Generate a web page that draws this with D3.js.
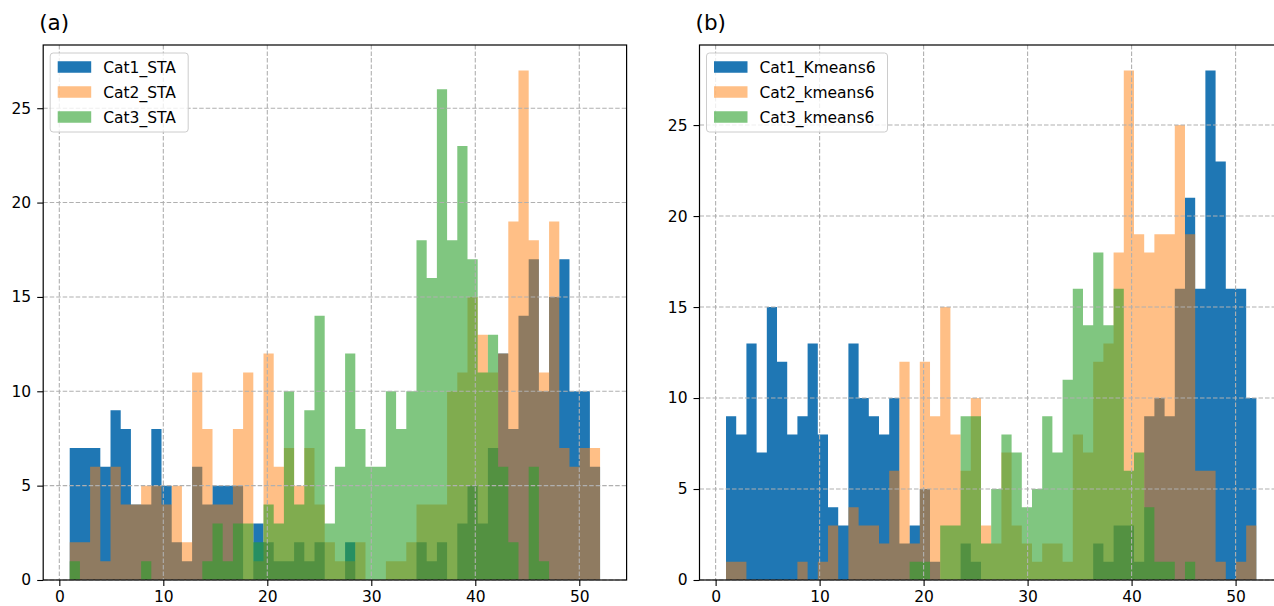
<!DOCTYPE html>
<html lang="en"><head>
<meta charset="utf-8"/>
<title>Weekly histograms</title>
<script src="https://cdn.jsdelivr.net/npm/d3@7"></script>
<style>
    body {margin: 0; width: 1274px; height: 606px; overflow: hidden; background: #fff;
        font-family: 'DejaVu Sans', sans-serif;}
    .axis text {font-size: 15.5px; fill: #000; font-family: 'DejaVu Sans', sans-serif;}
    .axis line {stroke: #000; stroke-width: 1.1;}
    .grid line {stroke: #b0b0b0; stroke-width: 1.1; stroke-dasharray: 4.5 2;}
</style>
</head>
<body>
<svg id="fig" width="1274" height="606"></svg>
<script>
    // histogram binning: values 1..52, 52 bins
    const dataMin = 1, dataMax = 52, binCount = 52;

    // panel (a) counts per bin
    const staCat1 = [7,7,7,6,9,8,4,4,8,5, 2,1,6,4,5,5,5,0,3,2, 1,1,2,1,2,0,0,2,0,0,
                     0,0,0,0,2,1,2,0,3,5, 3,7,12,8,14,17,10,15,17,10, 10,6];
    const staCat2 = [2,2,6,1,6,4,4,5,5,4, 5,2,11,8,4,4,8,11,1,12, 6,7,5,7,4,2,1,1,2,0,
                     0,1,1,2,4,4,4,10,11,15, 13,11,12,19,27,18,11,19,7,6, 7,7];
    const staCat3 = [1,0,0,0,0,0,0,1,0,0, 0,0,0,1,3,1,3,3,2,4, 3,10,4,9,14,3,6,12,8,6,
                     6,10,8,10,18,16,26,18,23,17, 11,13,6,2,0,6,1,0,0,0, 0,0];

    // panel (b) counts per bin
    const kmCat1 = [9,8,13,7,15,12,8,9,13,8, 4,3,13,10,9,8,10,2,3,5, 1,0,0,2,1,0,0,0,0,0,
                    0,0,0,0,0,0,2,1,3,3, 1,9,10,9,16,21,16,28,23,16, 16,10];
    const kmCat2 = [1,1,0,0,0,0,0,1,0,1, 3,0,4,3,3,2,6,12,2,12, 9,15,8,6,10,3,2,7,3,2,
                    1,2,2,1,8,7,12,13,18,28, 19,18,19,19,25,19,6,6,1,0, 1,3];
    const kmCat3 = [0,0,0,0,0,0,0,0,0,0, 0,0,0,0,0,0,0,0,1,1, 0,3,3,9,9,2,5,8,7,4,
                    5,9,7,11,16,14,18,14,16,6, 7,4,1,1,0,1,0,0,0,0, 0,0];

    const xTicks = [0, 10, 20, 30, 40, 50];
    const yTicks = [0, 5, 10, 15, 20, 25];
    const labelsA = ["Cat1_STA", "Cat2_STA", "Cat3_STA"];
    const labelsB = ["Cat1_Kmeans6", "Cat2_kmeans6", "Cat3_kmeans6"];

    const colors = ["#1f77b4", "#ff7f0e", "#2ca02c"];
    const alphas = [1, 0.5, 0.6];

    const panels = [
        {title: "(a)", left: 43.2, legendW: 138, names: labelsA, series: [staCat1, staCat2, staCat3]},
        {title: "(b)", left: 699.5, legendW: 181, names: labelsB, series: [kmCat1, kmCat2, kmCat3]}
    ];

    const axW = 583.4, axTop = 45, axBottom = 580;
    const binW = (dataMax - dataMin) / binCount;
    const edges = d3.range(binCount + 1).map(i => dataMin + i * binW);
    const pad = 0.05 * (dataMax - dataMin);

    const svg = d3.select("#fig");

    panels.forEach(p => {
        const x = d3.scaleLinear()
            .domain([dataMin - pad, dataMax + pad])
            .range([p.left, p.left + axW]);
        const y = d3.scaleLinear()
            .domain([0, d3.max(p.series.flat()) * 1.05])
            .range([axBottom, axTop]);

        const g = svg.append("g");

        // bars, one step area per series
        p.series.forEach((s, i) => {
            const pts = edges.map((e, j) => [e, s[Math.min(j, binCount - 1)]]);
            const area = d3.area()
                .x(d => x(d[0]))
                .y0(y(0))
                .y1(d => y(d[1]))
                .curve(d3.curveStepAfter);
            g.append("path")
                .attr("d", area(pts))
                .attr("fill", colors[i])
                .attr("fill-opacity", alphas[i]);
        });

        // grid on top of bars
        const grid = g.append("g").attr("class", "grid");
        grid.selectAll(".gx").data(xTicks).enter().append("line")
            .attr("x1", d => x(d)).attr("x2", d => x(d))
            .attr("y1", axTop).attr("y2", axBottom);
        grid.selectAll(".gy").data(yTicks).enter().append("line")
            .attr("x1", p.left).attr("x2", p.left + axW)
            .attr("y1", d => y(d)).attr("y2", d => y(d));

        // axes
        g.append("g")
            .attr("class", "axis")
            .attr("transform", `translate(0, ${axBottom})`)
            .call(d3.axisBottom(x).tickValues(xTicks).tickSize(6).tickPadding(5))
            .call(a => a.select(".domain").remove());
        g.append("g")
            .attr("class", "axis")
            .attr("transform", `translate(${p.left}, 0)`)
            .call(d3.axisLeft(y).tickValues(yTicks).tickSize(6).tickPadding(6))
            .call(a => a.select(".domain").remove());

        // spines
        g.append("rect")
            .attr("x", p.left).attr("y", axTop)
            .attr("width", axW).attr("height", axBottom - axTop)
            .attr("fill", "none").attr("stroke", "#000").attr("stroke-width", 1.2);

        // panel label
        g.append("text")
            .attr("x", p.left - 4).attr("y", 30)
            .style("font-size", "21.5px")
            .text(p.title);

        // legend
        const lx = p.left + 7, ly = 53;
        const leg = g.append("g");
        leg.append("rect")
            .attr("x", lx).attr("y", ly)
            .attr("width", p.legendW).attr("height", 79)
            .attr("rx", 3).attr("ry", 3)
            .attr("fill", "#fff").attr("fill-opacity", 0.8)
            .attr("stroke", "#cccccc").attr("stroke-width", 1);
        p.names.forEach((name, i) => {
            const cy = 67 + i * 25;
            leg.append("rect")
                .attr("x", lx + 7.5).attr("y", cy - 5.75)
                .attr("width", 33.5).attr("height", 11.5)
                .attr("fill", colors[i]).attr("fill-opacity", alphas[i]);
            leg.append("text")
                .attr("x", lx + 53).attr("y", cy + 5.5)
                .style("font-size", "15.5px")
                .text(name);
        });
    });
</script>
</body></html>
